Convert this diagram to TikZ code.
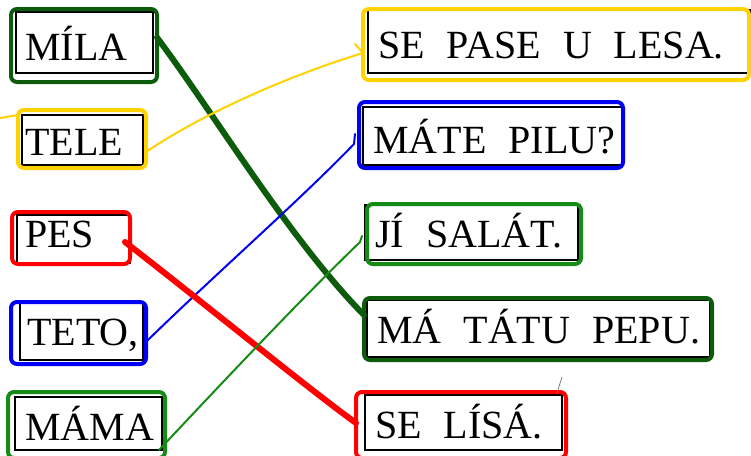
\documentclass[tikz,border=0pt]{standalone}
\usepackage{fontspec}
\setmainfont{Liberation Serif}
\newcommand\wordfont{\fontsize{40}{48}\selectfont\spaceskip=0.55em plus 0.1em\relax}
\definecolor{dkgreen}{RGB}{12,92,12}
\definecolor{mgreen}{RGB}{22,140,22}
\definecolor{myyellow}{RGB}{255,210,0}
\definecolor{myblue}{RGB}{0,0,245}
\definecolor{myred}{RGB}{255,0,0}
\begin{document}
\begin{tikzpicture}[x=1pt,y=-1pt,
  bbox/.style={draw=black, line width=1.6pt, anchor=north west, inner sep=0pt, outer sep=0pt},
  word/.style={anchor=base west, inner sep=0pt, font=\wordfont},
  ring/.style={draw=#1, line width=4pt, rounded corners=6pt, anchor=north west, inner sep=0pt, outer sep=0pt},
  boldlink/.style={draw=#1, line width=6pt, line cap=round, line join=round},
  finelink/.style={draw=#1, line width=2pt, line cap=round, line join=round}]
\clip (0,0) rectangle (751,455);
\fill[white] (0,0) rectangle (751,455);

% black boxes
\node[bbox, minimum width=137pt, minimum height=61pt] (b1) at (16,12) {};
\node[bbox, minimum width=121pt, minimum height=50pt] (b2) at (22,115) {};
\node[bbox, minimum width=113pt, minimum height=48pt] (b3) at (17,215) {};
\node[bbox, minimum width=123pt, minimum height=57pt] (b4) at (20,303) {};
\node[bbox, minimum width=147pt, minimum height=53pt] (b5) at (15,397) {};
\node[bbox, minimum width=382pt, minimum height=63pt] (b6) at (368,10) {};
\node[bbox, minimum width=259pt, minimum height=58pt] (b7) at (363,107) {};
\node[bbox, minimum width=213pt, minimum height=55pt] (b8) at (365,205) {};
\node[bbox, minimum width=343pt, minimum height=57pt] (b9) at (367,300) {};
\node[bbox, minimum width=197pt, minimum height=55pt] (b10) at (365,395) {};

% words
\node[word] (t1) at (25,60) {MÍLA};
\node[word] (t2) at (25,155) {TELE};
\node[word] (t3) at (25,247) {PES};
\node[word] (t4) at (27,345) {TETO,};
\node[word] (t5) at (25,440) {MÁMA};
\node[word] (t6) at (378,58) {SE PASE U LESA.};
\node[word] (t7) at (373,153) {MÁTE PILU?};
\node[word] (t8) at (375,247) {JÍ SALÁT.};
\node[word] (t9) at (377,343) {MÁ TÁTU PEPU.};
\node[word] (t10) at (375,438) {SE LÍSÁ.};

% coloured rings
\node[ring=dkgreen, minimum width=146pt, minimum height=73pt] (o1) at (11,9) {};
\node[ring=myyellow, minimum width=128pt, minimum height=58pt] (o2) at (18,110) {};
\node[ring=myred, minimum width=118pt, minimum height=52pt] (o3) at (12,212) {};
\node[ring=myblue, minimum width=135pt, minimum height=62pt] (o4) at (11,302) {};
\node[ring=mgreen, minimum width=157pt, minimum height=66pt] (o5) at (8,392) {};
\node[ring=myyellow, minimum width=386pt, minimum height=71pt] (o6) at (363,9) {};
\node[ring=myblue, minimum width=264pt, minimum height=66pt] (o7) at (359,102) {};
\node[ring=mgreen, minimum width=214pt, minimum height=60pt] (o8) at (367,204) {};
\node[ring=dkgreen, minimum width=348pt, minimum height=62pt] (o9) at (364,298) {};
\node[ring=myred, minimum width=210pt, minimum height=66pt] (o10) at (356,392) {};

% connectors
\coordinate (ye) at (0,118);
\draw[finelink=myyellow] (ye) -- ([yshift=-5pt]o2.north west);

\draw[boldlink=dkgreen] ([yshift=8pt]o1.east)
  .. controls (215,115) and (290,240) .. ([yshift=14pt]o9.west);

\draw[finelink=myyellow] ([yshift=-13pt]o2.east)
  .. controls (200,115) and (290,75) .. ([yshift=-8.5pt]o6.west) -- ++(-8,-9);

\draw[finelink=myblue] ([xshift=1pt,yshift=-8pt]o4.east) -- ++(3,-3)
  .. controls (220,270) and (300,200) .. ([xshift=-5pt,yshift=-9pt]o7.west) -- ++(1,-10);

\draw[boldlink=myred] ([xshift=-5pt,yshift=-4pt]o3.east)
  .. controls (200,300) and (310,390) .. ([yshift=2pt]o10.west);

\draw[finelink=mgreen] ([xshift=-6pt,yshift=8pt]o5.south east)
  .. controls (220,385) and (300,300) .. ([xshift=-7pt,yshift=-8pt]o8.west) -- ++(2,-6);

% pencil mark
\draw[gray, line width=0.8pt] (562,377) -- (557,393);
\end{tikzpicture}
\end{document}
